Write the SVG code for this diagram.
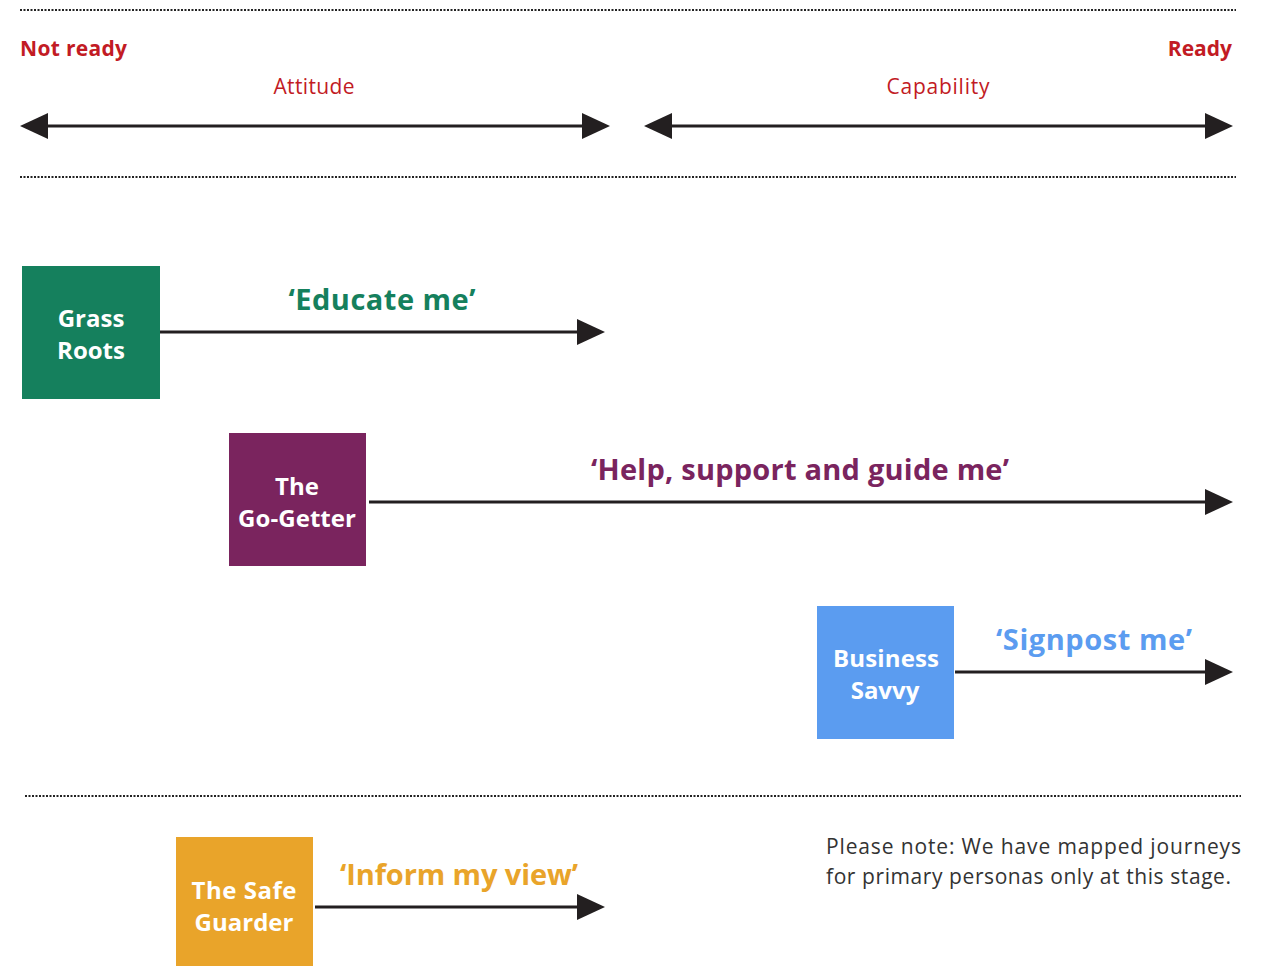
<svg xmlns="http://www.w3.org/2000/svg" width="1261" height="966" viewBox="0 0 1261 966">
<style>
text{font-family:"Open Sans","Liberation Sans",sans-serif}
.dot{stroke:#222;stroke-width:2;stroke-dasharray:2 1.5;fill:none}
.red{fill:#c21b24;font-size:21px}
.b{font-weight:bold}
.line{stroke:#231f20;stroke-width:3;fill:none}
.box{font-size:24px;font-weight:bold;fill:#fff;text-anchor:middle}
.lbl{font-size:29px;font-weight:bold;text-anchor:middle}
.head{fill:#231f20}
.note{font-size:21px;fill:#333}
</style>
<rect width="1261" height="966" fill="#fff"/>
<g id="scale">
<line class="dot" x1="20" y1="10" x2="1236" y2="10"/>
<line class="dot" x1="20" y1="177" x2="1236" y2="177"/>
<line class="dot" x1="25" y1="796" x2="1241" y2="796"/>
<text class="red b" x="20" y="56" textLength="107" lengthAdjust="spacing">Not ready</text>
<text class="red b" x="1232" y="56" text-anchor="end">Ready</text>
<text class="red" x="314" y="94" text-anchor="middle" textLength="81" lengthAdjust="spacing">Attitude</text>
<text class="red" x="938" y="94" text-anchor="middle" textLength="103" lengthAdjust="spacing">Capability</text>
</g>
<g id="connectors">
<line class="line" x1="46" y1="126" x2="584" y2="126"/>
<polygon class="head" points="20,126 48,113 48,139"/>
<polygon class="head" points="610,126 582,113 582,139"/>
<line class="line" x1="670" y1="126" x2="1207" y2="126"/>
<polygon class="head" points="644,126 672,113 672,139"/>
<polygon class="head" points="1233,126 1205,113 1205,139"/>
<line class="line" x1="160" y1="332" x2="579" y2="332"/>
<polygon class="head" points="605,332 577,319 577,345"/>
<line class="line" x1="369" y1="502" x2="1207" y2="502"/>
<polygon class="head" points="1233,502 1205,489 1205,515"/>
<line class="line" x1="955" y1="672" x2="1207" y2="672"/>
<polygon class="head" points="1233,672 1205,659 1205,685"/>
<line class="line" x1="315" y1="907" x2="579" y2="907"/>
<polygon class="head" points="605,907 577,894 577,920"/>
</g>
<g id="grass-roots">
<rect x="22" y="266" width="138" height="133" fill="#15805d"/>
<text class="box" x="91" y="327">Grass</text>
<text class="box" x="91" y="359">Roots</text>
<text class="lbl" x="382" y="310" fill="#15805d" textLength="187" lengthAdjust="spacing">‘Educate me’</text>
</g>
<g id="go-getter">
<rect x="229" y="433" width="137" height="133" fill="#7a245e"/>
<text class="box" x="297" y="495">The</text>
<text class="box" x="297" y="527" textLength="118" lengthAdjust="spacing">Go-Getter</text>
<text class="lbl" x="800" y="480" fill="#7a245e" textLength="418" lengthAdjust="spacing">‘Help, support and guide me’</text>
</g>
<g id="business-savvy">
<rect x="817" y="606" width="137" height="133" fill="#5b9cf0"/>
<text class="box" x="886" y="667" textLength="106" lengthAdjust="spacing">Business</text>
<text class="box" x="885" y="699">Savvy</text>
<text class="lbl" x="1094" y="650" fill="#5b9cf0" textLength="196" lengthAdjust="spacing">‘Signpost me’</text>
</g>
<g id="safe-guarder">
<rect x="176" y="837" width="137" height="129" fill="#e9a42a"/>
<text class="box" x="244" y="899" textLength="105" lengthAdjust="spacing">The Safe</text>
<text class="box" x="244" y="931">Guarder</text>
<text class="lbl" x="459" y="885" fill="#e9a42a" textLength="238" lengthAdjust="spacing">‘Inform my view’</text>
</g>
<g id="note">
<text class="note" x="826" y="854" textLength="415" lengthAdjust="spacing">Please note: We have mapped journeys</text>
<text class="note" x="826" y="884" textLength="405" lengthAdjust="spacing">for primary personas only at this stage.</text>
</g>
</svg>
